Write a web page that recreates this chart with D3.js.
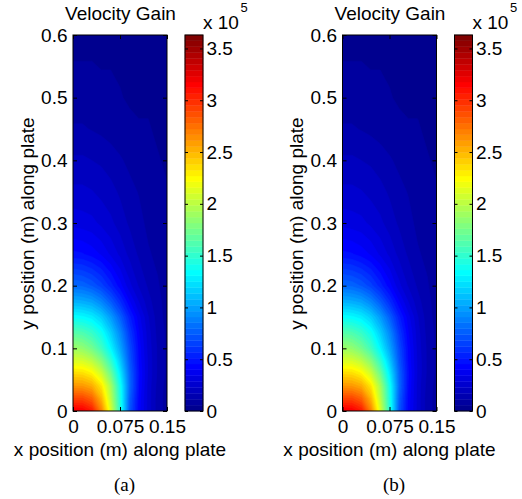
<!DOCTYPE html>
<html>
<head>
<meta charset="utf-8">
<script src="https://cdn.jsdelivr.net/npm/d3@7"></script>
<style>
  body { margin: 0; background: #fff; }
  svg text { font-family: "Liberation Sans", Arial, sans-serif; font-size: 19px; fill: #000; }
  svg text.sub { font-family: "Liberation Serif", "Times New Roman", serif; font-size: 19px; }
</style>
</head>
<body>
<svg id="chart" width="522" height="499"></svg>
<script>
// Section 1: Data
// ===========================

var xGrid = [0, 0.015, 0.03, 0.045, 0.06, 0.075, 0.09, 0.105, 0.12, 0.135, 0.15];
var yGrid = [0, 0.02, 0.04, 0.06, 0.08, 0.1, 0.125, 0.15, 0.175, 0.2, 0.25, 0.3, 0.35, 0.4, 0.45, 0.5, 0.6];

// velocity gain (x 10^5), one row per yGrid value
var row000 = [3.20, 3.18, 3.07, 2.69, 2.11, 1.45, 0.73, 0.42, 0.26, 0.14, 0.09];
var row002 = [2.90, 2.90, 2.80, 2.50, 2.00, 1.42, 0.76, 0.43, 0.26, 0.14, 0.09];
var row004 = [2.61, 2.60, 2.53, 2.32, 1.92, 1.38, 0.80, 0.45, 0.26, 0.15, 0.09];
var row006 = [2.36, 2.35, 2.27, 2.07, 1.72, 1.27, 0.78, 0.46, 0.27, 0.16, 0.10];
var row008 = [2.11, 2.09, 2.00, 1.81, 1.51, 1.14, 0.73, 0.44, 0.27, 0.16, 0.10];
var row010 = [1.89, 1.85, 1.74, 1.56, 1.31, 1.02, 0.69, 0.43, 0.26, 0.16, 0.10];
var row0125 = [1.63, 1.60, 1.52, 1.38, 1.16, 0.91, 0.62, 0.40, 0.25, 0.15, 0.10];
var row015 = [1.34, 1.32, 1.27, 1.16, 0.98, 0.76, 0.53, 0.36, 0.23, 0.14, 0.09];
var row0175 = [1.05, 1.03, 0.99, 0.89, 0.74, 0.57, 0.40, 0.28, 0.19, 0.13, 0.09];
var row020 = [0.80, 0.78, 0.73, 0.65, 0.54, 0.42, 0.30, 0.22, 0.16, 0.12, 0.08];
var row025 = [0.47, 0.46, 0.43, 0.39, 0.33, 0.27, 0.21, 0.16, 0.12, 0.10, 0.07];
var row030 = [0.32, 0.31, 0.30, 0.27, 0.24, 0.20, 0.16, 0.13, 0.10, 0.08, 0.07];
var row035 = [0.24, 0.24, 0.23, 0.21, 0.19, 0.16, 0.13, 0.11, 0.09, 0.07, 0.06];
var row040 = [0.18, 0.18, 0.17, 0.16, 0.14, 0.12, 0.10, 0.09, 0.08, 0.06, 0.05];
var row045 = [0.12, 0.12, 0.11, 0.10, 0.09, 0.08, 0.07, 0.06, 0.06, 0.05, 0.05];
var row050 = [0.08, 0.08, 0.08, 0.07, 0.07, 0.06, 0.05, 0.05, 0.05, 0.04, 0.04];
var row060 = [0.04, 0.04, 0.04, 0.04, 0.04, 0.04, 0.04, 0.03, 0.03, 0.03, 0.03];

var gainRows = [row000, row002, row004, row006, row008, row010, row0125, row015,
  row0175, row020, row025, row030, row035, row040, row045, row050, row060];

// colour bar range (x 10^5) and ticks
var cMax = 3.63;
var cbTicks = [0, 0.5, 1, 1.5, 2, 2.5, 3, 3.5];
var xTicks = [0, 0.075, 0.15];
var yTicks = [0, 0.1, 0.2, 0.3, 0.4, 0.5, 0.6];
var panelNames = ["(a)", "(b)"];

// Section 2: Setup
// ===========================
var svg = d3.select("#chart");

var plotLeft = 73, plotRight = 167, plotTop = 35, plotBottom = 411;
var cbLeft = 185, cbRight = 203;
var panelShift = 269.5;
var tickLen = 4;

// jet colormap, 64 steps like matlab
var nLevels = 64;
var jetKnots = d3.scaleLinear()
  .domain([0, 7, 23, 39, 55, 63])
  .range(["rgb(0,0,143)", "rgb(0,0,255)", "rgb(0,255,255)", "rgb(255,255,0)", "rgb(255,0,0)", "rgb(128,0,0)"]);
var jetColors = d3.range(nLevels).map(function(k) { return jetKnots(k); });
var thresholds = d3.range(nLevels).map(function(k) { return k * cMax / nLevels; });

var nx = xGrid.length, ny = yGrid.length;
var flat = [];
gainRows.forEach(function(row) { row.forEach(function(v) { flat.push(v); }); });

var bands = d3.contours().size([nx, ny]).thresholds(thresholds)(flat);

// grid coords from d3.contours -> data coords (values sit at cell centres)
var gxToX = d3.scaleLinear()
  .domain([0].concat(xGrid.map(function(d, i) { return i + 0.5; }), [nx]))
  .range([xGrid[0]].concat(xGrid, [xGrid[nx - 1]]));
var gyToY = d3.scaleLinear()
  .domain([0].concat(yGrid.map(function(d, i) { return i + 0.5; }), [ny]))
  .range([yGrid[0]].concat(yGrid, [yGrid[ny - 1]]));

function stripDomain(g) {
  g.select(".domain").remove();
}

// Section 3: Panels
// ===========================
panelNames.forEach(function(name, p) {
  var off = p * panelShift;
  var x = d3.scaleLinear().domain([0, 0.15]).range([plotLeft + off, plotRight + off]);
  var y = d3.scaleLinear().domain([0, 0.6]).range([plotBottom, plotTop]);
  var yc = d3.scaleLinear().domain([0, cMax]).range([plotBottom, plotTop]);

  var proj = d3.geoTransform({
    point: function(gx, gy) { this.stream.point(x(gxToX(gx)), y(gyToY(gy))); }
  });
  var path = d3.geoPath(proj);

  var clipId = "clip" + p;
  svg.append("clipPath").attr("id", clipId)
    .append("rect")
    .attr("x", x(0)).attr("y", plotTop)
    .attr("width", x(0.15) - x(0)).attr("height", plotBottom - plotTop);

  // filled contour bands
  svg.append("g")
    .attr("clip-path", "url(#" + clipId + ")")
    .selectAll("path")
    .data(bands)
    .enter()
    .append("path")
    .attr("d", path)
    .attr("fill", function(d, i) { return jetColors[i]; })
    .attr("stroke", function(d, i) { return jetColors[i]; })
    .attr("stroke-width", 0.6);

  // axes, ticks pointing inwards
  svg.append("g")
    .attr("transform", "translate(" + x(0) + ",0)")
    .call(d3.axisLeft(y).tickValues(yTicks).tickFormat(String).tickSize(-tickLen).tickSizeOuter(0).tickPadding(5.5))
    .call(stripDomain);
  svg.append("g")
    .attr("transform", "translate(" + x(0.15) + ",0)")
    .call(d3.axisRight(y).tickValues(yTicks).tickFormat("").tickSize(-tickLen).tickSizeOuter(0))
    .call(stripDomain);
  svg.append("g")
    .attr("transform", "translate(0," + plotBottom + ")")
    .call(d3.axisBottom(x).tickValues(xTicks).tickFormat(String).tickSize(-tickLen).tickSizeOuter(0).tickPadding(9))
    .call(stripDomain);
  svg.append("g")
    .attr("transform", "translate(0," + plotTop + ")")
    .call(d3.axisTop(x).tickValues(xTicks).tickFormat("").tickSize(-tickLen).tickSizeOuter(0))
    .call(stripDomain);

  svg.append("rect")
    .attr("x", x(0)).attr("y", plotTop)
    .attr("width", x(0.15) - x(0)).attr("height", plotBottom - plotTop)
    .attr("fill", "none").attr("stroke", "#000").attr("stroke-width", 1);

  // colour bar
  var cbX = cbLeft + off, cbW = cbRight - cbLeft;
  svg.append("g")
    .selectAll("rect")
    .data(thresholds)
    .enter()
    .append("rect")
    .attr("x", cbX)
    .attr("y", function(t) { return yc(t + cMax / nLevels); })
    .attr("width", cbW)
    .attr("height", function(t) { return yc(t) - yc(t + cMax / nLevels); })
    .attr("fill", function(t, i) { return jetColors[i]; })
    .attr("stroke", function(t, i) { return jetColors[i]; })
    .attr("stroke-width", 0.4);

  svg.append("g")
    .attr("transform", "translate(" + (cbX + cbW) + ",0)")
    .call(d3.axisRight(yc).tickValues(cbTicks).tickFormat(String).tickSize(-3).tickSizeOuter(0).tickPadding(3.5))
    .call(stripDomain);
  svg.append("g")
    .attr("transform", "translate(" + cbX + ",0)")
    .call(d3.axisLeft(yc).tickValues(cbTicks).tickFormat("").tickSize(-3).tickSizeOuter(0))
    .call(stripDomain);
  svg.append("rect")
    .attr("x", cbX).attr("y", plotTop)
    .attr("width", cbW).attr("height", plotBottom - plotTop)
    .attr("fill", "none").attr("stroke", "#000").attr("stroke-width", 1);

  // exponent label on the colour bar
  var expo = svg.append("text").attr("x", 203 + off).attr("y", 29.3);
  expo.append("tspan").text("x 10");
  expo.append("tspan").attr("dx", 1.5).attr("dy", -17.5).style("font-size", "13px").text("5");

  // titles and labels
  svg.append("text")
    .attr("x", 120.5 + off).attr("y", 19.5)
    .attr("text-anchor", "middle")
    .text("Velocity Gain");
  svg.append("text")
    .attr("x", 120 + off).attr("y", 455.5)
    .attr("text-anchor", "middle")
    .text("x position (m) along plate");
  svg.append("text")
    .attr("transform", "translate(" + (33.5 + off) + ",223.5)rotate(-90)")
    .attr("text-anchor", "middle")
    .text("y position (m) along plate");
  svg.append("text")
    .attr("class", "sub")
    .attr("x", 124.5 + off).attr("y", 490.5)
    .attr("text-anchor", "middle")
    .text(name);
});
</script>
</body>
</html>
